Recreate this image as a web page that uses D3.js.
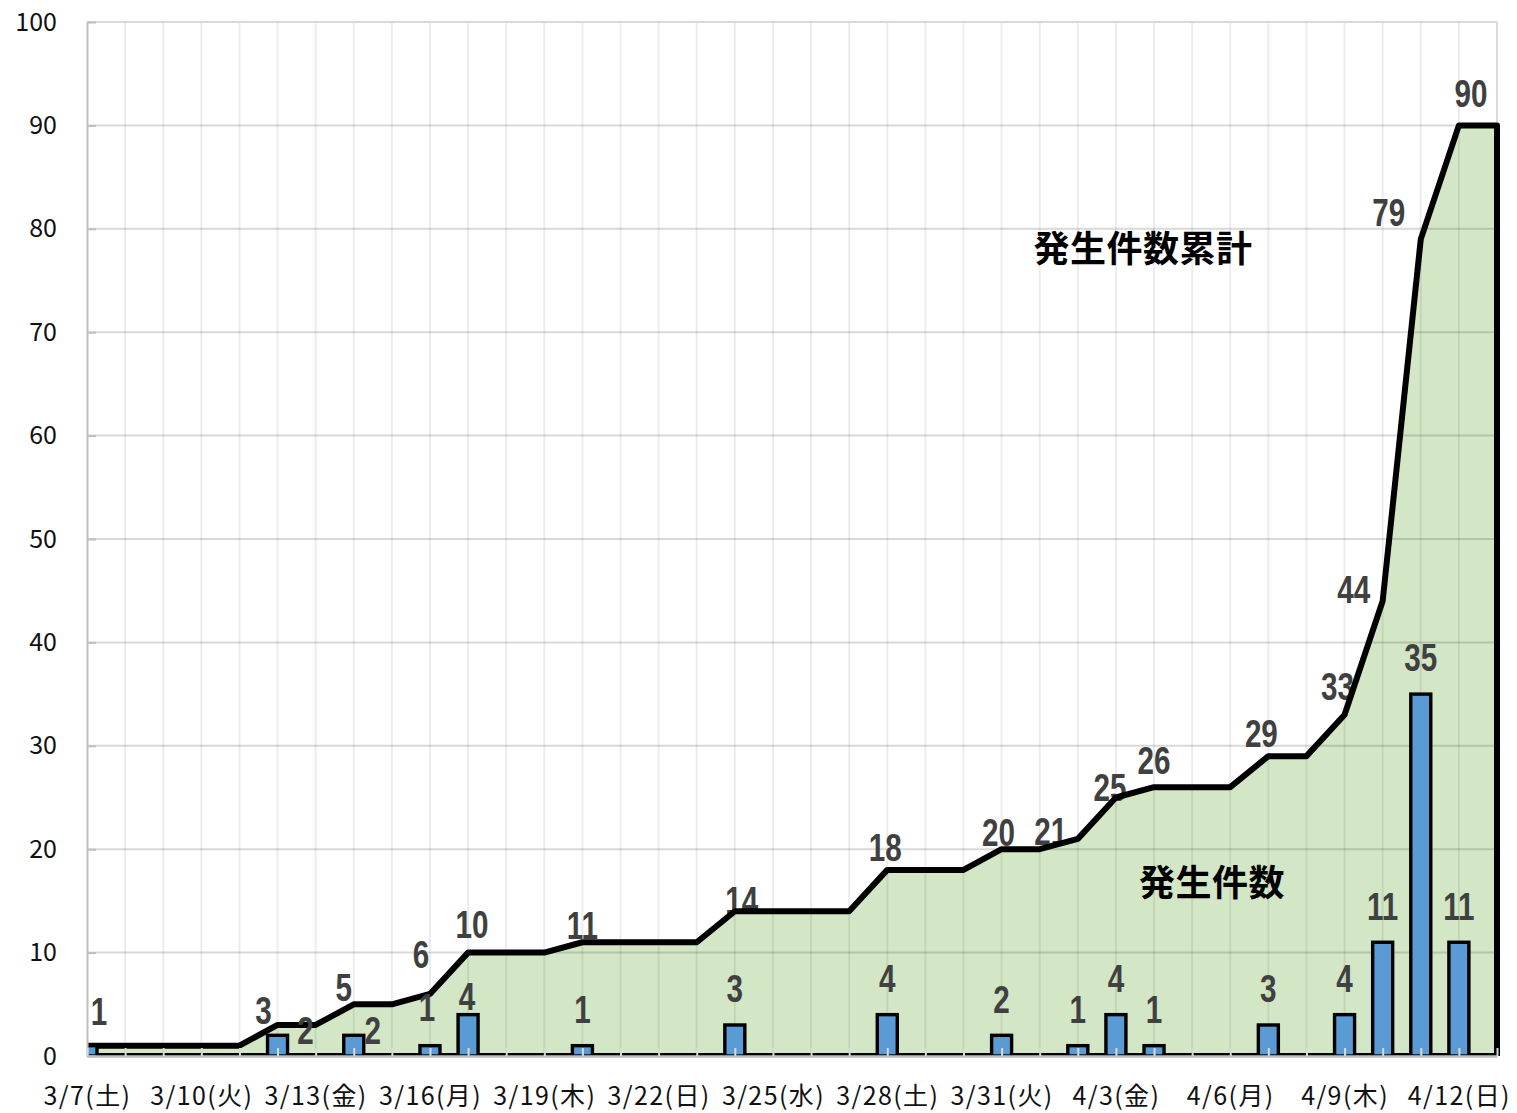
<!DOCTYPE html>
<html><head><meta charset="utf-8">
<script src="https://cdn.jsdelivr.net/npm/d3@7"></script>
<style>
html,body{margin:0;padding:0;background:#fff;}
svg{display:block;}
</style></head>
<body>
<svg id="chart" width="1517" height="1113"></svg>
<script>
// ---- data ----
const dates = ["3/7(土)","3/8(日)","3/9(月)","3/10(火)","3/11(水)","3/12(木)","3/13(金)","3/14(土)","3/15(日)","3/16(月)","3/17(火)","3/18(水)","3/19(木)","3/20(金)","3/21(土)","3/22(日)","3/23(月)","3/24(火)","3/25(水)","3/26(木)","3/27(金)","3/28(土)","3/29(日)","3/30(月)","3/31(火)","4/1(水)","4/2(木)","4/3(金)","4/4(土)","4/5(日)","4/6(月)","4/7(火)","4/8(水)","4/9(木)","4/10(金)","4/11(土)","4/12(日)","4/13(月)"];
const daily = [1,0,0,0,0,2,0,2,0,1,4,0,0,1,0,0,0,3,0,0,0,4,0,0,2,0,1,4,1,0,0,3,0,4,11,35,11,0];
const cumulative = [1,1,1,1,1,3,3,5,5,6,10,10,10,11,11,11,11,14,14,14,14,18,18,18,20,20,21,25,26,26,26,29,29,33,44,79,90,90];
const yTicks = [0,10,20,30,40,50,60,70,80,90,100];
const tickLabelDates = ["3/7(土)","3/10(火)","3/13(金)","3/16(月)","3/19(木)","3/22(日)","3/25(水)","3/28(土)","3/31(火)","4/3(金)","4/6(月)","4/9(木)","4/12(日)"];
const seriesNames = ["発生件数累計","発生件数"];

// ---- layout (label nudges in px, as placed in the original) ----
const cumLabelNudge = {"3/12(木)":[-14,-14],"3/14(土)":[-10,-17],"3/16(月)":[-9,-39],"3/17(火)":[4,-28],"3/20(金)":[0,-17],"3/24(火)":[7,-11],"3/28(土)":[-2,-22],"3/31(火)":[-3,-17],"4/2(木)":[-27,-7],"4/3(金)":[-6,-10],"4/4(土)":[0,-27],"4/7(火)":[-7,-23],"4/9(木)":[-7,-28],"4/10(金)":[-29,-11],"4/11(土)":[-32,-27],"4/12(日)":[12,-32]};
const barLabelNudge = {"3/7(土)":[12,-34],"3/12(木)":[28,-5],"3/14(土)":[19,-5],"3/16(月)":[-3,-38],"3/17(火)":[-1,-18]};

const L = 87, R = 1497, T = 22, B = 1056;
const svg = d3.select("#chart");
const x = d3.scalePoint().domain(dates).range([L, R]);
const y = d3.scaleLinear().domain([0, 100]).range([B, T]);

const defs = svg.append("defs");
defs.append("clipPath").attr("id","plotclip").append("rect")
  .attr("x", L).attr("y", 0).attr("width", R - L + 10).attr("height", B);

const labelFont = "'Liberation Sans',Arial,sans-serif";
const axisFont = "'Noto Sans CJK JP','Noto Sans',sans-serif";

// area fill
const area = d3.area().x((d,i)=>x(dates[i])).y0(B).y1(d=>y(d)).curve(d3.curveLinear);
svg.append("path").datum(cumulative).attr("d", area).attr("fill", "#d3e7c6");

// gridlines (semi transparent so they show through the area)
const grid = svg.append("g");
grid.selectAll("line.v").data(dates.slice(1)).join("line")
  .attr("x1", d=>x(d)).attr("x2", d=>x(d)).attr("y1", T).attr("y2", B)
  .attr("stroke", "rgba(0,0,0,0.075)").attr("stroke-width", 2);
grid.selectAll("line.h").data(yTicks.slice(1)).join("line")
  .attr("x1", L).attr("x2", R).attr("y1", d=>y(d)).attr("y2", d=>y(d))
  .attr("stroke", "rgba(0,0,0,0.15)").attr("stroke-width", 2);
// top/right border
svg.append("line").attr("x1",L).attr("x2",R).attr("y1",T).attr("y2",T).attr("stroke","#d9d9d9").attr("stroke-width",2);
svg.append("line").attr("x1",R).attr("x2",R).attr("y1",T).attr("y2",B).attr("stroke","#d9d9d9").attr("stroke-width",2);

function label(g, px, py, txt) {
  g.append("text").attr("transform", `translate(${px},${py}) scale(0.78,1)`)
    .attr("x", 0).attr("y", 0).text(txt);
}
const labStyle = g => g.attr("font-family", labelFont).attr("font-size", 38).attr("font-weight", "bold")
  .attr("fill", "#404040").attr("text-anchor", "middle").attr("dominant-baseline", "central");

// cumulative data labels (under the line)
const cumG = svg.append("g").call(labStyle);
dates.forEach((d,i)=>{
  if (cumLabelNudge[d]) {
    const [dx, dy] = cumLabelNudge[d];
    label(cumG, x(d)+dx, y(cumulative[i])+dy, cumulative[i]);
  }
});

// cumulative outline: line + right edge + bottom
const pts = cumulative.map((v,i)=>[x(dates[i]), y(v)]);
pts.push([x(dates[dates.length-1]), y(0)]);
pts.push([x(dates[0]), y(0)]);
svg.append("path").attr("clip-path","url(#plotclip)")
  .attr("d", d3.line()(pts))
  .attr("fill","none").attr("stroke","#000").attr("stroke-width",6)
  .attr("stroke-linejoin","round");

// bars
const bw = 20;
const barData = dates.map((d,i)=>({d, v: daily[i]})).filter(o=>o.v>0);
svg.append("g").attr("clip-path","url(#plotclip)")
  .selectAll("rect").data(barData).join("rect")
  .attr("x", o=>x(o.d)-bw/2).attr("width", bw)
  .attr("y", o=>y(o.v)).attr("height", o=>y(0)-y(o.v))
  .attr("fill", "#5b9bd5").attr("stroke", "#000").attr("stroke-width", 3.4);

// y axis
const yAxis = svg.append("g").attr("transform", `translate(${L},0)`)
  .call(d3.axisLeft(y).tickValues(yTicks).tickSize(-9).tickSizeOuter(0).tickPadding(30));
yAxis.select(".domain").attr("stroke", "#bfbfbf").attr("stroke-width", 2);
yAxis.selectAll(".tick line").attr("stroke", "#bfbfbf").attr("stroke-width", 2);
yAxis.selectAll(".tick text").attr("font-family", axisFont).attr("font-size", 25).attr("fill", "#111");

// x axis
const xAxis = svg.append("g").attr("transform", `translate(0,${B})`)
  .call(d3.axisBottom(x).tickSize(-8).tickSizeOuter(0).tickPadding(31)
    .tickFormat(d => tickLabelDates.includes(d) ? d : ""));
xAxis.select(".domain").attr("stroke", "#bfbfbf").attr("stroke-width", 2.5);
xAxis.selectAll(".tick line").attr("stroke", "#d9d9d9").attr("stroke-width", 2);
xAxis.selectAll(".tick text").attr("font-family", axisFont).attr("font-size", 25)
  .attr("letter-spacing", "1.4px").attr("fill", "#111");

// daily data labels (on top)
const barG = svg.append("g").call(labStyle);
barData.forEach(o=>{
  const [dx, dy] = barLabelNudge[o.d] || [0, -36];
  label(barG, x(o.d)+dx, y(o.v)+dy, o.v);
});

// series name annotations
svg.append("text").attr("x", 1143).attr("y", 246).attr("text-anchor","middle").attr("dominant-baseline","central")
  .attr("font-family", axisFont).attr("font-weight", "bold").attr("font-size", 36).attr("letter-spacing","0.5px")
  .attr("fill","#000").text(seriesNames[0]);
svg.append("text").attr("x", 1212).attr("y", 880).attr("text-anchor","middle").attr("dominant-baseline","central")
  .attr("font-family", axisFont).attr("font-weight", "bold").attr("font-size", 36).attr("letter-spacing","0.5px")
  .attr("fill","#000").text(seriesNames[1]);
</script>
</body></html>
